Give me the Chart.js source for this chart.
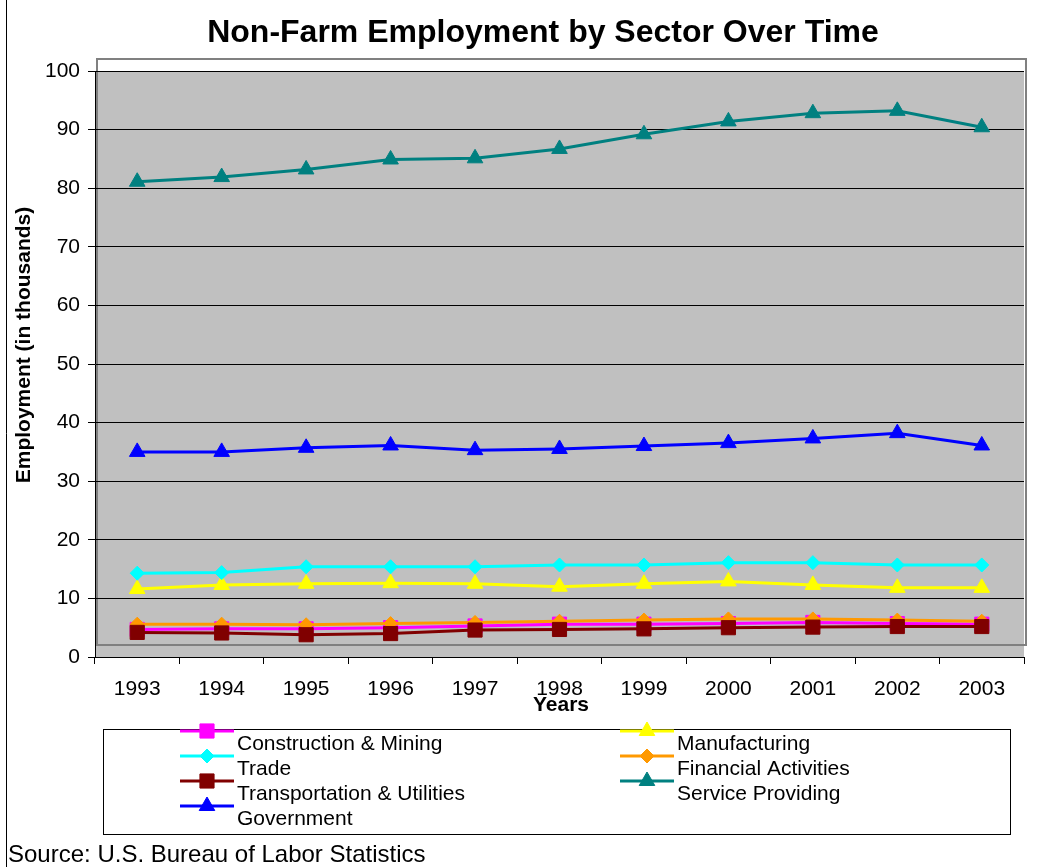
<!DOCTYPE html>
<html>
<head>
<meta charset="utf-8">
<title>Non-Farm Employment by Sector Over Time</title>
<script src="https://cdn.jsdelivr.net/npm/chart.js@4"></script>
<style>
  html, body { margin: 0; padding: 0; background: #fff; }
  #wrap { position: relative; width: 1050px; height: 867px; }
</style>
</head>
<body>
<div id="wrap"><canvas id="employmentChart" width="1050" height="867"></canvas></div>
<script>
// values (thousands)
const years = ['1993', '1994', '1995', '1996', '1997', '1998', '1999', '2000', '2001', '2002', '2003'];
const constructionMining = [4.7, 4.8, 4.8, 5.0, 5.3, 5.6, 5.6, 5.7, 5.9, 5.7, 5.6];
const manufacturing = [11.6, 12.3, 12.5, 12.6, 12.5, 12.0, 12.5, 12.9, 12.3, 11.8, 11.8];
const trade = [14.3, 14.4, 15.4, 15.4, 15.4, 15.7, 15.7, 16.1, 16.1, 15.7, 15.7];
const financialActivities = [5.6, 5.6, 5.5, 5.7, 5.9, 6.1, 6.3, 6.5, 6.5, 6.3, 6.1];
const transportationUtilities = [4.2, 4.1, 3.8, 4.0, 4.6, 4.7, 4.8, 5.0, 5.1, 5.2, 5.2];
const serviceProviding = [81.1, 81.9, 83.2, 84.9, 85.1, 86.7, 89.2, 91.4, 92.8, 93.2, 90.4];
const government = [35.0, 35.0, 35.7, 36.1, 35.3, 35.5, 36.0, 36.5, 37.3, 38.2, 36.1];
const yTicks = [0, 10, 20, 30, 40, 50, 60, 70, 80, 90, 100];

const FONT = '"Liberation Sans", Arial, sans-serif';
Chart.defaults.font.family = FONT;
Chart.defaults.color = '#000';

function series(label, data, color, pointStyle, radius) {
    return {
        label: label,
        data: data,
        borderColor: color,
        backgroundColor: color,
        pointBackgroundColor: color,
        pointBorderColor: color,
        pointStyle: pointStyle,
        pointRadius: radius,
        pointHoverRadius: radius,
        pointBorderWidth: 1,
        borderWidth: 3,
        tension: 0
    };
}

const datasets = [
    series('Construction & Mining', constructionMining, '#FF00FF', 'rect', 10),
    series('Manufacturing', manufacturing, '#FFFF00', 'triangle', 9),
    series('Trade', trade, '#00FFFF', 'rectRot', 7),
    series('Financial Activities', financialActivities, '#FF9900', 'rectRot', 7),
    series('Transportation & Utilities', transportationUtilities, '#800000', 'rect', 10),
    series('Service Providing', serviceProviding, '#008080', 'triangle', 9),
    series('Government', government, '#0000FF', 'triangle', 9)
];
// later series sit on top, like the original
datasets.forEach((ds, i) => { ds.order = datasets.length - i; });

// grey plot area + the offset frame around it
const plotBackground = {
    id: 'plotBackground',
    beforeDraw(chart) {
        const { ctx, chartArea: a } = chart;
        ctx.save();
        ctx.fillStyle = '#C0C0C0';
        ctx.fillRect(a.left, a.top, a.right - a.left, a.bottom - a.top);
        ctx.strokeStyle = '#808080';
        ctx.lineWidth = 2;
        ctx.strokeRect(a.left + 2, a.top - 12, a.right - a.left, a.bottom - a.top);
        // left edge of the chart frame
        ctx.strokeStyle = '#000';
        ctx.lineWidth = 1;
        ctx.beginPath();
        ctx.moveTo(6.5, 0);
        ctx.lineTo(6.5, chart.height);
        ctx.stroke();
        ctx.restore();
    }
};

// titles, boxed legend and source note
const annotations = {
    id: 'annotations',
    afterDraw(chart) {
        const ctx = chart.ctx;
        ctx.save();
        ctx.fillStyle = '#000';
        ctx.textBaseline = 'middle';

        ctx.textAlign = 'center';
        ctx.font = 'bold 32px ' + FONT;
        ctx.fillText('Non-Farm Employment by Sector Over Time', 543, 33);

        ctx.font = 'bold 21px ' + FONT;
        ctx.fillText('Years', 561, 705);

        ctx.save();
        ctx.translate(24, 345);
        ctx.rotate(-Math.PI / 2);
        ctx.fillText('Employment (in thousands)', 0, 0);
        ctx.restore();

        // legend box
        ctx.strokeStyle = '#000';
        ctx.lineWidth = 1;
        ctx.strokeRect(103.5, 729.5, 907, 105);

        chart.data.datasets.forEach((ds, i) => {
            const col = i % 2;
            const row = Math.floor(i / 2);
            const mx = col ? 647 : 207;
            const my = 731 + row * 25;
            ctx.strokeStyle = ds.borderColor;
            ctx.lineWidth = 3;
            ctx.beginPath();
            ctx.moveTo(mx - 27, my);
            ctx.lineTo(mx + 27, my);
            ctx.stroke();
            ctx.fillStyle = ds.pointBackgroundColor;
            ctx.strokeStyle = ds.pointBorderColor;
            ctx.lineWidth = 1;
            Chart.helpers.drawPoint(ctx, {
                pointStyle: ds.pointStyle, radius: ds.pointRadius, rotation: 0, borderWidth: 1
            }, mx, my);
            ctx.fillStyle = '#000';
            ctx.textAlign = 'left';
            ctx.font = '21px ' + FONT;
            ctx.fillText(ds.label, mx + 30, my + 13);
        });

        ctx.textAlign = 'left';
        ctx.font = '24px ' + FONT;
        ctx.fillText('Source: U.S. Bureau of Labor Statistics', 8, 855);
        ctx.restore();
    }
};

const ctx = document.getElementById('employmentChart').getContext('2d');
const chart = new Chart(ctx, {
    type: 'line',
    data: { labels: years, datasets: datasets },
    options: {
        responsive: false,
        animation: false,
        devicePixelRatio: 1,
        layout: { padding: { left: 7, top: 71, right: 26, bottom: 151 } },
        scales: {
            x: {
                type: 'category',
                offset: true,
                afterFit: (scale) => { scale.height = 59; },
                grid: { offset: true, drawOnChartArea: false, tickLength: 7, color: '#000' },
                border: { color: '#000', width: 1 },
                ticks: { font: { size: 21 }, padding: 13, maxRotation: 0 }
            },
            y: {
                min: yTicks[0],
                max: yTicks[yTicks.length - 1],
                afterFit: (scale) => { scale.width = 88; },
                afterBuildTicks: (scale) => { scale.ticks = yTicks.map(v => ({ value: v })); },
                grid: { color: '#000', lineWidth: 1, tickLength: 7 },
                border: { color: '#000', width: 1 },
                ticks: { font: { size: 21 }, padding: 8 }
            }
        },
        plugins: {
            legend: { display: false },
            title: { display: false },
            tooltip: { enabled: true }
        }
    },
    plugins: [plotBackground, annotations]
});
</script>
</body>
</html>
